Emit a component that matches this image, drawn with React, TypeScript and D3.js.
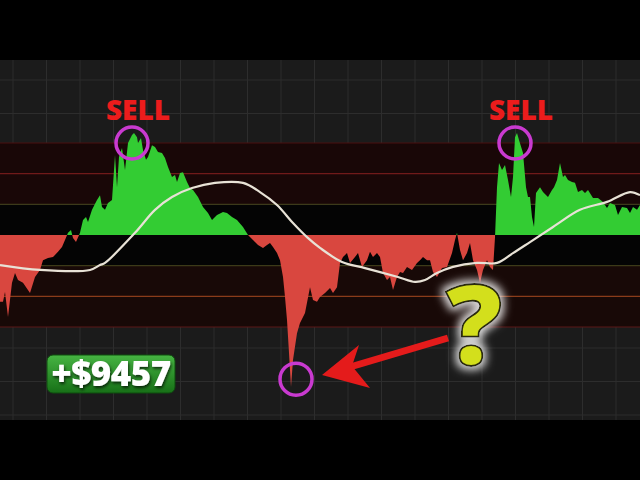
import React, { useRef, useEffect } from "react";
import * as d3 from "d3";

// oscillator (CCI-like) readings: bar index and value
const bars = [
  0, 1.5, 2.5, 4, 6, 7.5, 9, 11.5, 15, 17.5, 20, 21.5, 24, 26.5, 29, 31, 32.5, 34, 35.5, 36.5,
  38, 40, 41.5, 43, 44, 46, 48.5, 50, 51, 52.5, 54, 56, 57.5, 58.5, 59.5, 61, 62.5, 64, 66, 67,
  68.5, 69, 70.5, 71.5, 73, 74, 76, 77.5, 79, 81, 82.5, 84, 86, 87.5, 88.5, 90, 91.5, 93.5, 95, 96.5,
  99, 101.5, 104, 106, 107.5, 108.5, 111.5, 113.5, 116, 118.5, 121.5, 124, 126.5, 129, 131.5, 133.5, 135, 136.5, 138.5, 140,
  141.5, 142.5, 143.5, 144.5, 145.5, 146.5, 148.5, 150, 152.5, 155, 156.5, 158.5, 160, 162.5, 165, 166.5, 168.5, 170, 171.5, 173.5,
  175, 177.5, 179, 181, 183.5, 185, 186.5, 188.5, 190, 191.5, 193.5, 195, 196.5, 198.5, 200, 201.5, 203.5, 206, 208.5, 210,
  211.5, 213.5, 215, 216.5, 218.5, 221, 223.5, 226, 227.5, 228.5, 230, 231.5, 233.5, 235, 236.5, 238.5, 240, 241.5, 243.5, 245,
  246.5, 247.5, 248.5, 249.5, 251, 252.5, 254, 255.5, 256.5, 257.5, 258.5, 259.5, 261.5, 263, 264, 265, 266, 267, 268, 270,
  271.5, 274, 276, 277, 278.5, 280, 281.5, 282.5, 284, 286, 287.5, 289, 291, 292.5, 294, 296.5, 299, 301.5, 303.5, 305,
  307.5, 309, 311, 313.5, 315, 316.5, 318.5, 320,
];
const oscValues = [
  -218, -218, -186, -267, -156, -124, -147, -156, -189, -137, -114, -82, -75, -72, -55, -39, -16, 7, 16, -10,
  -23, 7, 49, 59, 42, 82, 114, 130, 91, 82, 104, 114, 261, 156, 254, 284, 212, 300, 326, 333,
  319, 300, 316, 277, 245, 254, 293, 287, 271, 267, 251, 222, 189, 196, 173, 202, 205, 173, 153, 147,
  124, 91, 72, 49, 59, 65, 75, 72, 59, 49, 26, 0, -16, -33, -42, -33, -26, -39, -59, -82,
  -137, -202, -277, -385, -496, -408, -320, -287, -254, -170, -212, -218, -202, -189, -173, -189, -170, -91, -72, -59,
  -91, -72, -59, -104, -82, -55, -72, -59, -72, -124, -147, -137, -179, -137, -121, -124, -104, -114, -91, -82,
  -72, -82, -82, -121, -137, -108, -104, -59, -16, 7, -49, -82, -59, -26, -82, -114, -156, -114, -82, -104,
  -114, -7, 156, 235, 212, 228, 179, 124, 189, 319, 333, 310, 267, 156, 124, 124, 59, 26, 137, 156,
  140, 124, 147, 156, 179, 235, 189, 196, 179, 173, 170, 140, 147, 137, 147, 121, 121, 108, 88, 104,
  98, 65, 91, 88, 72, 91, 82, 98,
];

// smoothed signal line
const maBars = [
  0, 20, 45, 50, 52.5, 67.5, 77.5, 86, 96, 107.5, 121.5, 130, 138.5, 146.5, 153.5, 160,
  171, 182.5, 199, 207.5, 212.5, 218.5, 226.5, 238.5, 248.5, 256.5, 265, 276.5, 290, 303.5, 315, 320,
];
const maValues = [
  -98, -114, -114, -98, -91, 7, 82, 124, 153, 170, 170, 140, 98, 39, -7, -42,
  -88, -108, -137, -153, -147, -124, -104, -91, -91, -59, -23, 26, 82, 108, 140, 130,
];

const levels = [300, 200, 100, -100, -200, -300];
const levelColors = ["#4a1111", "#701a1a", "#3c3a1a", "#3c3a18", "#8a3c1a", "#5a1818"];

const sellMarks = [67, 258.5];
const sellValues = [300, 300];
const dipMark = 145.5;
const dipValue = -470;

const App: React.FC = () => {
  const svgRef = useRef<SVGSVGElement | null>(null);

  useEffect(() => {
    if (!svgRef.current) return;
    document.body.style.margin = "0";
    const W = 640;
    const H = 480;
    const svg = d3.select(svgRef.current);
    svg.selectAll("*").remove();

    const x = d3.scaleLinear().domain([0, 320]).range([0, W]);
    const y = d3.scaleLinear().domain([-300, 300]).range([327, 143]);

    const defs = svg.append("defs");
    defs.append("clipPath").attr("id", "above").append("rect")
      .attr("x", 0).attr("y", 0).attr("width", W).attr("height", y(0));
    defs.append("clipPath").attr("id", "below").append("rect")
      .attr("x", 0).attr("y", y(0)).attr("width", W).attr("height", H - y(0));

    const badge = defs.append("linearGradient").attr("id", "badge")
      .attr("x1", 0).attr("x2", 0).attr("y1", 0).attr("y2", 1);
    badge.append("stop").attr("offset", "0%").attr("stop-color", "#46b442");
    badge.append("stop").attr("offset", "100%").attr("stop-color", "#177017");

    const glow = defs.append("filter").attr("id", "glow")
      .attr("x", "-50%").attr("y", "-50%").attr("width", "200%").attr("height", "200%");
    glow.append("feMorphology").attr("in", "SourceAlpha").attr("operator", "dilate").attr("radius", 3).attr("result", "d");
    glow.append("feGaussianBlur").attr("in", "d").attr("stdDeviation", 4).attr("result", "b");
    glow.append("feFlood").attr("flood-color", "#ffffff").attr("flood-opacity", 0.85);
    glow.append("feComposite").attr("in2", "b").attr("operator", "in").attr("result", "g");
    const m = glow.append("feMerge");
    m.append("feMergeNode").attr("in", "g");
    m.append("feMergeNode").attr("in", "SourceGraphic");

    const shadow = defs.append("filter").attr("id", "shadow");
    shadow.append("feDropShadow").attr("dx", 1).attr("dy", 2).attr("stdDeviation", 1.5)
      .attr("flood-color", "#000").attr("flood-opacity", 0.7);

    // background + grid
    svg.append("rect").attr("width", W).attr("height", H).attr("fill", "#000");
    svg.append("rect").attr("x", 0).attr("y", 60).attr("width", W).attr("height", 360).attr("fill", "#1b1b1b");
    const grid = svg.append("g").attr("stroke", "#2d2d2d").attr("stroke-width", 1);
    d3.range(13, W, 33.5).forEach((gx) => {
      grid.append("line").attr("x1", gx).attr("x2", gx).attr("y1", 60).attr("y2", 420);
    });
    d3.range(80, 420, 33.5).forEach((gy) => {
      grid.append("line").attr("x1", 0).attr("x2", W).attr("y1", gy).attr("y2", gy);
    });

    // level bands
    svg.append("rect").attr("x", 0).attr("y", y(300)).attr("width", W)
      .attr("height", y(100) - y(300)).attr("fill", "#190707");
    svg.append("rect").attr("x", 0).attr("y", y(100)).attr("width", W)
      .attr("height", y(-100) - y(100)).attr("fill", "#040404");
    svg.append("rect").attr("x", 0).attr("y", y(-100)).attr("width", W)
      .attr("height", y(-300) - y(-100)).attr("fill", "#180907");
    levels.forEach((lv, i) => {
      svg.append("line").attr("x1", 0).attr("x2", W).attr("y1", y(lv)).attr("y2", y(lv))
        .attr("stroke", levelColors[i]).attr("stroke-width", 1.2);
    });

    // oscillator area
    const pts = bars.map((b, i) => [b, oscValues[i]] as [number, number]);
    const area = d3.area<[number, number]>()
      .x((d) => x(d[0]))
      .y0(y(0))
      .y1((d) => y(d[1]));
    svg.append("path").datum(pts).attr("d", area).attr("fill", "#33cc33").attr("clip-path", "url(#above)");
    svg.append("path").datum(pts).attr("d", area).attr("fill", "#d9473f").attr("clip-path", "url(#below)");

    // signal line
    const ma = maBars.map((b, i) => [b, maValues[i]] as [number, number]);
    const line = d3.line<[number, number]>()
      .x((d) => x(d[0]))
      .y((d) => y(d[1]))
      .curve(d3.curveCatmullRom);
    svg.append("path").datum(ma).attr("d", line).attr("fill", "none")
      .attr("stroke", "#e8e2d6").attr("stroke-width", 2.2);

    // SELL labels and circles
    sellMarks.forEach((b, i) => {
      svg.append("text").attr("x", x(b) + 4).attr("y", 120)
        .attr("text-anchor", "middle")
        .attr("font-family", "'Open Sans', sans-serif")
        .attr("font-weight", 800).attr("font-size", 28)
        .attr("fill", "#ec1c1c").text("SELL");
      svg.append("circle").attr("cx", x(b) - 2).attr("cy", y(sellValues[i])).attr("r", 16)
        .attr("fill", "none").attr("stroke", "#c93ad0").attr("stroke-width", 3.5);
    });
    svg.append("circle").attr("cx", x(dipMark) + 5).attr("cy", y(dipValue)).attr("r", 16)
      .attr("fill", "none").attr("stroke", "#c93ad0").attr("stroke-width", 3.5);

    // arrow
    const ax = 448, ay = 338, tx = 322, ty = 375;
    svg.append("line").attr("x1", ax).attr("y1", ay).attr("x2", tx + 28).attr("y2", ty - 8)
      .attr("stroke", "#e41b1b").attr("stroke-width", 7);
    svg.append("path")
      .attr("d", `M${tx},${ty} L${359},${345} L${352},${366} L${370},${388} Z`)
      .attr("fill", "#e41b1b");

    // profit badge
    svg.append("rect").attr("x", 47).attr("y", 355).attr("width", 128).attr("height", 38)
      .attr("rx", 6).attr("fill", "url(#badge)").attr("stroke", "#0f4f0f").attr("stroke-width", 1);
    svg.append("text").attr("x", 111).attr("y", 386).attr("text-anchor", "middle")
      .attr("font-family", "'Open Sans', sans-serif").attr("font-weight", 800)
      .attr("font-size", 35).attr("letter-spacing", -0.5).attr("fill", "#ffffff")
      .attr("filter", "url(#shadow)")
      .text("+$9457");

    // question mark
    svg.append("text").attr("x", 474).attr("y", 365)
      .attr("text-anchor", "middle")
      .attr("font-family", "'Open Sans', sans-serif").attr("font-weight", 800)
      .attr("font-size", 112).attr("fill", "#d3df1d")
      .attr("stroke", "#2a2a0c").attr("stroke-width", 1.8)
      .attr("filter", "url(#glow)").text("?");
  }, []);

  return <svg ref={svgRef} width={640} height={480} style={{ display: "block" }} />;
};

export default App;
